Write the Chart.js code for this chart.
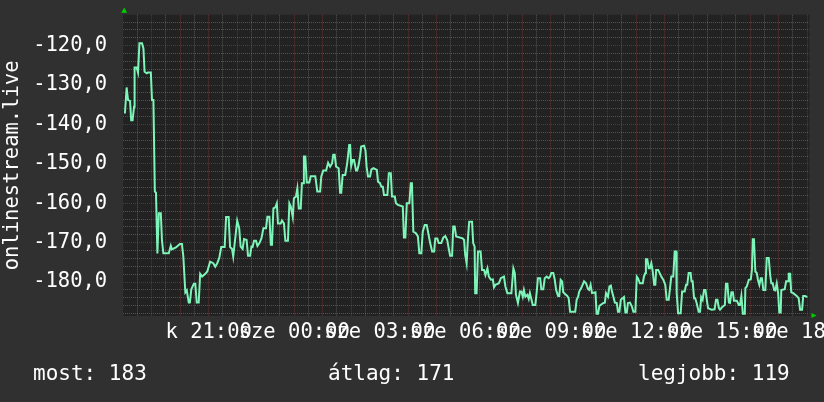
<!DOCTYPE html>
<html>
<head>
<meta charset="utf-8">
<script src="https://cdn.jsdelivr.net/npm/chart.js@4"></script>
<style>
  html, body { margin:0; padding:0; background:#303030; }
  #wrap { position:relative; width:824px; height:402px; }
  .leg { position:absolute; top:361px; font:21px "DejaVu Sans Mono", monospace; color:#fff; white-space:pre; }
</style>
</head>
<body>
<div id="wrap">
  <canvas id="c" width="824" height="402"></canvas>
  <span class="leg" id="leg-now" style="left:33px"></span>
  <span class="leg" id="leg-avg" style="left:328px"></span>
  <span class="leg" id="leg-best" style="left:638px"></span>
</div>
<script>
// hours since 18:00 the previous day, and the measured value at that moment
const times = [
  0.06,0.12,0.17,0.24,0.28,0.33,0.38,0.40,0.47,0.52,0.57,0.66,0.71,0.75,0.83,0.87,0.97,1.01,1.06,1.11,
  1.15,1.20,1.25,1.32,1.36,1.41,1.60,1.67,1.71,1.85,1.99,2.06,2.11,2.18,2.23,2.30,2.34,2.39,2.48,2.53,
  2.58,2.65,2.70,2.77,2.88,2.95,3.05,3.16,3.23,3.30,3.37,3.44,3.56,3.61,3.70,3.75,3.82,3.86,4.00,4.07,
  4.12,4.19,4.24,4.33,4.38,4.45,4.50,4.54,4.59,4.66,4.71,4.78,4.85,4.92,5.01,5.06,5.13,5.18,5.22,5.27,
  5.34,5.39,5.43,5.53,5.57,5.64,5.69,5.78,5.83,5.88,5.95,5.99,6.06,6.11,6.16,6.23,6.27,6.32,6.34,6.39,
  6.44,6.53,6.58,6.74,6.81,6.91,6.95,7.02,7.12,7.19,7.26,7.33,7.37,7.42,7.47,7.56,7.61,7.65,7.70,7.79,
  7.86,7.93,7.96,8.00,8.05,8.10,8.17,8.21,8.26,8.31,8.35,8.45,8.50,8.54,8.59,8.66,8.71,8.78,8.90,8.94,
  9.01,9.06,9.11,9.15,9.27,9.32,9.39,9.43,9.53,9.57,9.64,9.81,9.85,9.90,9.95,10.04,10.09,10.13,10.18,10.27,
  10.34,10.39,10.46,10.51,10.58,10.65,10.70,10.77,10.84,10.91,10.95,11.02,11.07,11.16,11.23,11.30,11.37,11.42,11.47,11.54,
  11.58,11.63,11.68,11.91,11.96,12.00,12.05,12.10,12.14,12.24,12.28,12.33,12.35,12.40,12.45,12.54,12.59,12.66,12.71,12.78,
  12.83,12.90,12.97,13.01,13.06,13.18,13.25,13.36,13.41,13.48,13.62,13.69,13.74,13.78,13.85,13.92,13.97,14.02,14.06,14.11,
  14.18,14.23,14.27,14.32,14.37,14.46,14.51,14.55,14.63,14.67,14.74,14.79,14.86,14.93,14.98,15.02,15.09,15.14,15.19,15.26,
  15.30,15.35,15.40,15.44,15.58,15.63,15.68,15.86,15.91,15.96,16.00,16.07,16.17,16.24,16.31,16.35,16.40,16.45,16.57,16.61,
  16.66,16.71,16.85,16.90,16.94,17.01,17.06,17.11,17.15,17.20,17.25,17.32,17.36,17.41,17.46,17.57,17.62,17.67,17.71,17.78,
  17.85,17.90,17.97,18.02,18.06,18.13,18.23,18.27,18.32,18.34,18.39,18.44,18.48,18.53,18.58,18.63,18.67,18.70,18.77,18.88,
  18.95,19.02,19.07,19.14,19.19,19.23,19.30,19.35,19.40,19.42,19.47,19.56,19.61,19.70,19.75,19.79,19.84,19.91,19.94,19.98,
  20.03,20.07,20.12,20.19,20.24,20.28,20.33,20.38,20.43,20.47,20.52,20.64,20.75,20.80,20.85,20.90,20.94,21.01,21.11,21.15,
  21.20,21.25,21.29,21.34,21.39,21.43,21.53,21.60,21.64,21.69,21.74,21.81,21.83,21.88,21.95,22.02,22.06,22.09,22.13,22.18,
  22.23,22.27,22.32,22.37,22.41,22.46,22.53,22.58,22.65,22.70,22.74,22.79,22.84,22.88,22.93,22.98,23.02,23.07,23.09,23.21,
  23.26,23.33,23.35,23.40,23.44,23.51,23.63,23.70,23.75,23.82,23.86,23.93,24.00
];
const values = [
  -137.2,-130.6,-133.8,-134.0,-138.9,-138.9,-135.5,-125.5,-125.5,-126.8,-119.4,-119.4,-120.7,-126.6,-127.0,-126.8,-126.8,-133.8,-133.8,-157.0,
  -157.3,-172.7,-162.5,-162.5,-169.4,-172.7,-172.7,-170.8,-171.7,-171.2,-170.3,-170.3,-173.5,-182.6,-182.1,-185.2,-185.2,-181.8,-180.4,-180.4,
  -185.2,-185.2,-177.9,-178.6,-177.9,-177.3,-174.8,-175.2,-176.1,-175.2,-173.9,-171.1,-171.1,-163.5,-163.5,-171.1,-171.6,-173.5,-164.4,-166.3,
  -171.0,-171.6,-169.1,-169.3,-173.3,-173.3,-171.0,-171.1,-169.5,-169.5,-170.8,-170.1,-168.9,-166.3,-166.3,-163.4,-163.4,-170.5,-170.5,-161.3,
  -161.0,-160.0,-165.1,-165.1,-164.4,-165.1,-169.5,-169.5,-160.0,-160.8,-163.5,-158.7,-158.3,-156.2,-161.3,-161.3,-154.9,-154.9,-148.1,-148.1,
  -154.7,-154.7,-153.1,-153.1,-157.0,-157.0,-153.2,-151.7,-151.7,-149.7,-150.7,-149.8,-147.7,-147.7,-150.7,-151.1,-157.3,-157.3,-152.8,-152.8,
  -149.8,-145.2,-145.2,-150.5,-149.0,-149.0,-151.7,-151.7,-150.3,-148.1,-145.6,-145.4,-146.5,-150.7,-153.2,-153.2,-151.4,-151.1,-151.5,-154.5,
  -154.9,-155.8,-155.8,-157.9,-157.9,-152.4,-152.4,-158.3,-158.3,-160.0,-160.4,-160.8,-168.7,-168.7,-160.0,-160.0,-154.9,-154.9,-167.2,-167.6,
  -168.4,-172.7,-172.7,-167.2,-165.5,-165.5,-167.4,-170.1,-172.2,-172.2,-168.9,-168.9,-170.1,-170.1,-168.7,-168.3,-169.3,-171.4,-173.3,-173.3,
  -165.9,-165.9,-168.4,-168.9,-169.3,-173.1,-175.2,-168.4,-164.7,-164.7,-170.1,-171.0,-182.8,-182.8,-172.2,-172.2,-176.9,-176.9,-178.2,-176.5,
  -178.6,-179.4,-179.3,-181.3,-180.7,-180.3,-179.0,-178.6,-181.1,-182.8,-182.8,-176.5,-177.7,-183.2,-185.3,-182.4,-182.4,-183.7,-182.0,-183.7,
  -183.2,-184.3,-182.8,-184.3,-185.8,-185.8,-182.4,-179.0,-179.0,-181.8,-181.8,-179.0,-178.6,-179.0,-178.6,-177.7,-177.7,-179.3,-182.0,-183.5,
  -183.5,-179.4,-179.8,-182.6,-183.5,-184.1,-187.5,-187.5,-184.5,-183.7,-182.4,-181.5,-179.8,-180.3,-181.8,-182.0,-180.7,-182.8,-182.6,-188.0,
  -188.0,-186.0,-185.3,-185.2,-182.8,-183.7,-181.1,-180.9,-182.4,-183.7,-185.2,-185.3,-187.5,-187.5,-184.5,-183.8,-187.7,-187.7,-185.3,-185.2,
  -186.2,-187.5,-187.5,-178.6,-179.0,-180.3,-180.3,-178.6,-177.7,-174.2,-174.2,-176.5,-176.5,-175.2,-177.3,-180.7,-180.7,-176.9,-176.9,-178.6,
  -179.4,-180.7,-184.5,-184.5,-181.3,-178.6,-178.6,-172.2,-172.2,-182.8,-187.9,-187.9,-182.4,-182.4,-180.7,-180.7,-177.7,-177.7,-179.8,-179.8,
  -184.1,-184.1,-185.3,-187.5,-187.5,-183.8,-184.5,-182.0,-182.0,-184.1,-186.6,-187.0,-186.9,-184.5,-184.5,-186.6,-187.0,-186.4,-185.8,-180.4,
  -180.4,-185.2,-185.3,-182.6,-182.6,-184.7,-184.7,-185.8,-185.8,-183.5,-188.0,-188.0,-181.5,-181.1,-179.4,-179.3,-176.9,-169.1,-169.1,-177.3,
  -177.7,-179.4,-180.7,-179.0,-179.0,-182.0,-182.0,-173.9,-173.9,-178.2,-180.3,-180.3,-182.0,-182.1,-180.3,-182.8,-187.7,-187.7,-182.0,-181.8,
  -179.8,-179.8,-177.9,-177.9,-182.6,-182.8,-183.5,-184.1,-187.0,-187.0,-183.5,-183.5,-183.8
];

const xLabelHours = [3, 6, 9, 12, 15, 18, 21, 24];
const xLabels = ["k 21:00", "sze 00:00", "sze 03:00", "sze 06:00", "sze 09:00", "sze 12:00", "sze 15:00", "sze 18:00"];
const yLabelValues = [-120, -130, -140, -150, -160, -170, -180];
const yTitle = "onlinestream.live";
const legendNow = "most: 183", legendAvg = "átlag: 171", legendBest = "legjobb: 119";

const FONT = "'DejaVu Sans Mono', monospace";
const MINOR = "rgba(150,150,150,0.42)";
const MAJOR = "rgba(200,70,70,0.42)";

document.getElementById("leg-now").textContent = legendNow;
document.getElementById("leg-avg").textContent = legendAvg;
document.getElementById("leg-best").textContent = legendBest;

// plot canvas background + the two little green arrow heads rrdtool puts on the axes
const frame = {
  id: "frame",
  beforeDraw(chart){
    const {ctx, chartArea:a} = chart;
    ctx.save();
    ctx.fillStyle = "#222222";
    ctx.fillRect(a.left, a.top, a.right - a.left, a.bottom - a.top);
    ctx.restore();
  },
  afterDraw(chart){
    const {ctx, chartArea:a} = chart;
    ctx.save();
    ctx.fillStyle = "#00d000";
    ctx.beginPath();
    ctx.moveTo(a.left - 2, a.top - 2); ctx.lineTo(a.left + 4, a.top - 2); ctx.lineTo(a.left + 1, a.top - 7);
    ctx.closePath(); ctx.fill();
    ctx.beginPath();
    ctx.moveTo(a.right + 2, a.bottom - 3); ctx.lineTo(a.right + 2, a.bottom + 2); ctx.lineTo(a.right + 7, a.bottom - 0.5);
    ctx.closePath(); ctx.fill();
    ctx.restore();
  }
};

const xTicks = [], yTicks = [];
for(let i = 1; i <= 48; i++) xTicks.push(i / 2);
for(let v = -188; v <= -114; v += 2) yTicks.push(v);

new Chart(document.getElementById("c").getContext("2d"), {
  type: "line",
  data: {
    datasets: [{
      data: times.map((t, i) => ({x: t, y: values[i]})),
      borderColor: "#7df5b8",
      borderWidth: 2,
      pointRadius: 0,
      tension: 0,
      fill: false
    }]
  },
  options: {
    responsive: false,
    animation: false,
    devicePixelRatio: 1,
    layout: { padding: { left: 0, top: 14.7, right: 14.5, bottom: 46 } },
    plugins: { legend: { display: false }, tooltip: { enabled: false } },
    scales: {
      x: {
        type: "linear", min: 0, max: 24.08,
        afterBuildTicks: s => { s.ticks = xTicks.map(v => ({value: v})); },
        // fixed box: labels are allowed to spill past the edges like in rrdtool
        afterFit: s => { s.height = 40; s.paddingLeft = 0; s.paddingRight = 0; },
        grid: { drawTicks: false, color: c => Number.isInteger(c.tick.value) ? MAJOR : MINOR },
        border: { display: false, dash: [1, 1] },
        ticks: {
          autoSkip: false, maxRotation: 0, minRotation: 0, padding: 4,
          color: "#ffffff", font: { family: FONT, size: 20.5 },
          callback: v => { const i = xLabelHours.indexOf(v); return i < 0 ? "" : xLabels[i]; }
        }
      },
      y: {
        min: -188.6, max: -112.13,
        afterBuildTicks: s => { s.ticks = yTicks.map(v => ({value: v})); },
        afterFit: s => { s.width = 123.2; s.paddingTop = 0; s.paddingBottom = 0; },
        grid: { drawTicks: false, color: c => c.tick.value % 10 === 0 ? MAJOR : MINOR },
        border: { display: false, dash: [1, 1] },
        title: { display: true, text: yTitle, color: "#ffffff", padding: 0, font: { family: FONT, size: 20.5 } },
        ticks: {
          autoSkip: false, padding: 16, color: "#ffffff", font: { family: FONT, size: 20.5 },
          callback: v => yLabelValues.includes(v) ? v.toFixed(1).replace(".", ",") : ""
        }
      }
    }
  },
  plugins: [frame]
});
</script>
</body>
</html>
